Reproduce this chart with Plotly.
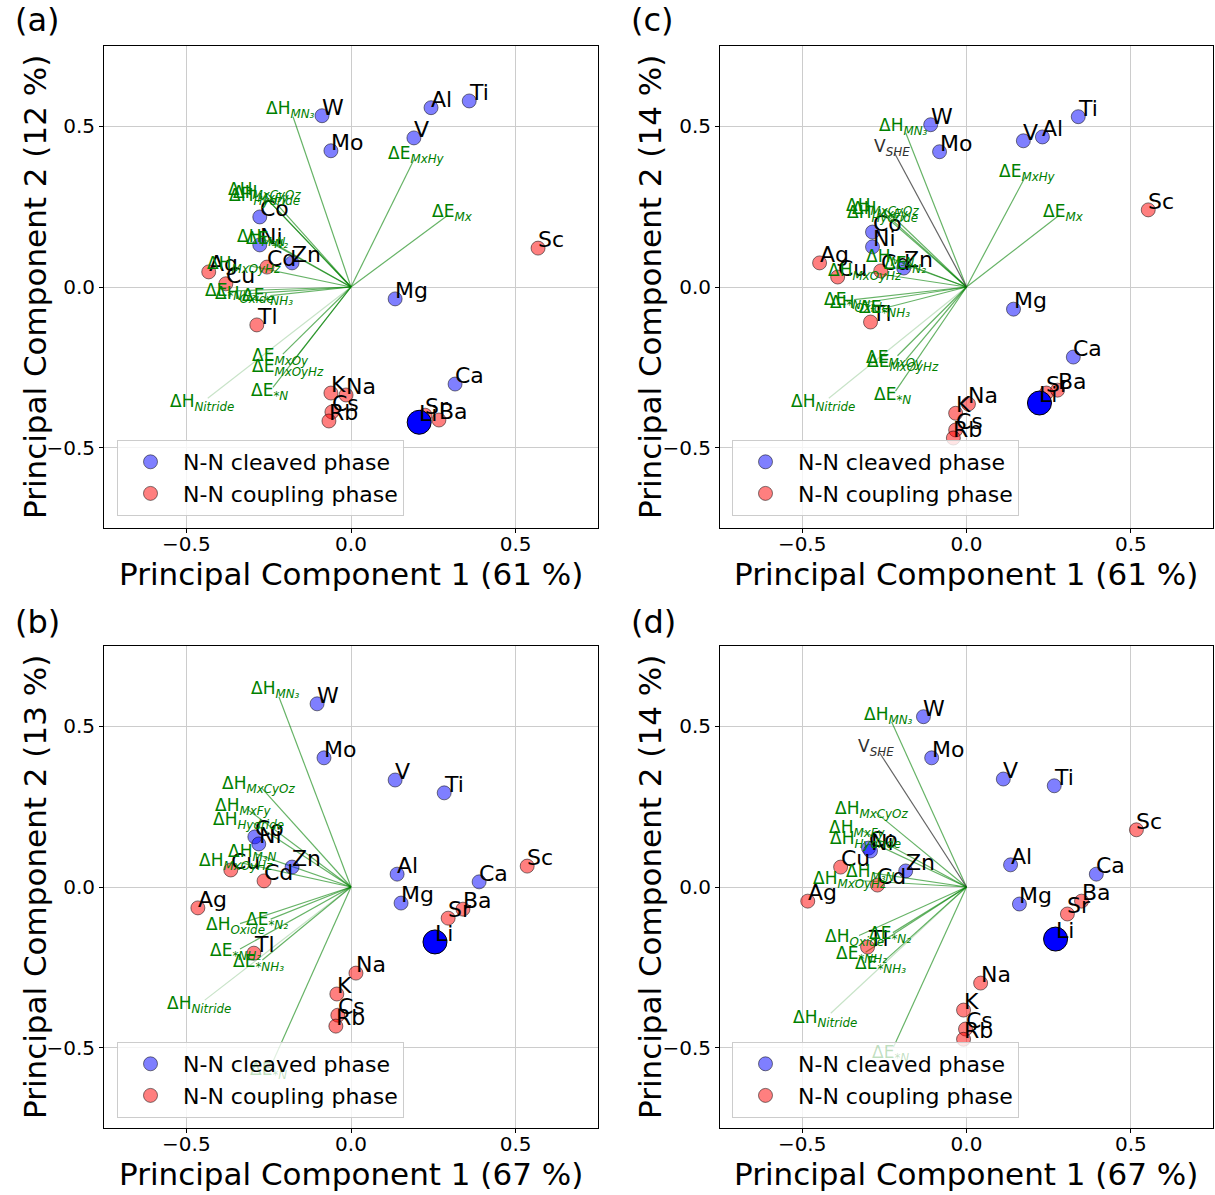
import plotly.graph_objects as go

# ---------------- data ----------------
elements = ["W", "Mo", "Al", "Ti", "V", "Mg", "Ca", "Co", "Ni", "Zn",
            "Sc", "Sr", "Ba", "K", "Na", "Cs", "Rb", "Ag", "Cu", "Cd", "Tl", "Li"]
phase = ["cleaved"] * 10 + ["coupling"] * 11 + ["reference"]

pc1_a = [-0.088, -0.061, 0.243, 0.359, 0.191, 0.134, 0.316, -0.277, -0.277, -0.179,
         0.568, 0.225, 0.267, -0.061, -0.015, -0.058, -0.067, -0.432, -0.380, -0.255, -0.286, 0.207]
pc2_a = [0.533, 0.424, 0.558, 0.579, 0.464, -0.037, -0.302, 0.218, 0.131, 0.075,
         0.121, -0.399, -0.414, -0.330, -0.336, -0.389, -0.417, 0.047, 0.010, 0.062, -0.118, -0.421]

pc1_c = [-0.109, -0.082, 0.231, 0.340, 0.173, 0.143, 0.325, -0.286, -0.286, -0.191,
         0.553, 0.243, 0.277, -0.033, 0.006, -0.033, -0.040, -0.447, -0.392, -0.261, -0.292, 0.222]
pc2_c = [0.505, 0.421, 0.467, 0.530, 0.455, -0.069, -0.218, 0.171, 0.125, 0.059,
         0.240, -0.330, -0.321, -0.393, -0.364, -0.445, -0.470, 0.075, 0.031, 0.050, -0.109, -0.361]

pc1_b = [-0.103, -0.082, 0.140, 0.283, 0.134, 0.152, 0.389, -0.292, -0.280, -0.179,
         0.535, 0.295, 0.340, -0.043, 0.015, -0.040, -0.046, -0.465, -0.365, -0.264, -0.295, 0.255]
pc2_b = [0.570, 0.402, 0.040, 0.293, 0.333, -0.050, 0.016, 0.156, 0.134, 0.062,
         0.065, -0.097, -0.069, -0.333, -0.268, -0.399, -0.433, -0.065, 0.053, 0.019, -0.206, -0.171]

pc1_d = [-0.131, -0.106, 0.134, 0.267, 0.112, 0.161, 0.395, -0.298, -0.292, -0.185,
         0.517, 0.307, 0.350, -0.009, 0.043, -0.003, -0.009, -0.483, -0.383, -0.271, -0.301, 0.271]
pc2_d = [0.530, 0.402, 0.069, 0.315, 0.336, -0.053, 0.040, 0.121, 0.112, 0.050,
         0.178, -0.084, -0.044, -0.383, -0.299, -0.442, -0.474, -0.044, 0.062, 0.006, -0.187, -0.162]

descriptors = ["ΔH_MN3", "V_SHE", "ΔH_MxCyOz", "ΔH_MxFy", "ΔH_Hydride", "ΔH_M3N", "ΔE_*N2",
               "ΔH_MxOyHz", "ΔH_Oxide", "ΔE_*NH2", "ΔE_*NH3", "ΔE_MxOy", "ΔE_MxOyHz",
               "ΔE_*N", "ΔH_Nitride", "ΔE_MxHy", "ΔE_Mx"]
descriptor_labels = [
    "ΔH<sub><i>MN₃</i></sub>", "V<sub><i>SHE</i></sub>", "ΔH<sub><i>MxCyOz</i></sub>",
    "ΔH<sub><i>MxFy</i></sub>", "ΔH<sub><i>Hydride</i></sub>", "ΔH<sub><i>M₃N</i></sub>",
    "ΔE<sub><i>*N₂</i></sub>", "ΔH<sub><i>MxOyHz</i></sub>", "ΔH<sub><i>Oxide</i></sub>",
    "ΔE<sub><i>*NH₂</i></sub>", "ΔE<sub><i>*NH₃</i></sub>", "ΔE<sub><i>MxOy</i></sub>",
    "ΔE<sub><i>MxOyHz</i></sub>", "ΔE<sub><i>*N</i></sub>", "ΔH<sub><i>Nitride</i></sub>",
    "ΔE<sub><i>MxHy</i></sub>", "ΔE<sub><i>Mx</i></sub>"]

load1_a = [-0.176, None, -0.253, -0.262, -0.253, -0.262, -0.245, -0.312, -0.312, -0.351, -0.245,
           -0.207, -0.185, -0.237, -0.435, 0.191, 0.295]
load2_a = [0.530, None, 0.290, 0.281, 0.272, 0.148, 0.142, 0.067, -0.021, -0.012, -0.027,
           -0.209, -0.242, -0.312, -0.346, 0.396, 0.224]

load1_c = [-0.185, -0.219, -0.247, -0.253, -0.247, -0.224, -0.179, -0.298, -0.312, -0.342, -0.239,
           -0.210, -0.185, -0.216, -0.419, 0.179, 0.283]
load2_c = [0.480, 0.417, 0.242, 0.233, 0.220, 0.087, 0.067, 0.046, -0.049, -0.039, -0.063,
           -0.214, -0.227, -0.324, -0.346, 0.343, 0.224]

load1_b = [-0.219, None, -0.271, -0.315, -0.298, -0.289, -0.244, -0.337, -0.337, -0.337, -0.269,
           None, None, -0.240, -0.444, None, None]
load2_b = [0.592, None, 0.308, 0.242, 0.200, 0.103, -0.100, 0.076, -0.114, -0.193, -0.227,
           None, None, -0.550, -0.352, None, None]

load1_d = [-0.228, -0.264, -0.277, -0.318, -0.295, -0.283, -0.224, -0.342, -0.327, -0.307, -0.253,
           None, None, -0.222, -0.413, None, None]
load2_d = [0.514, 0.417, 0.233, 0.176, 0.142, 0.043, -0.142, 0.021, -0.151, -0.203, -0.233,
           None, None, -0.498, -0.393, None, None]

panel_letters = ["(a)", "(c)", "(b)", "(d)"]
pc1_var = ["61 %", "61 %", "67 %", "67 %"]
pc2_var = ["12 %", "14 %", "13 %", "14 %"]
tick_vals = [-0.5, 0.0, 0.5]
tick_text = ["−0.5", "0.0", "0.5"]

# ---------------- layout geometry ----------------
W, H = 1215, 1195
xdom = [[104 / W, 598 / W], [720 / W, 1213 / W]]
ydom = [[1 - 528 / H, 1 - 46 / H], [1 - 1128 / H, 1 - 646 / H]]
panels = [
    dict(pc1=pc1_a, pc2=pc2_a, l1=load1_a, l2=load2_a, col=0, row=0, faint=False),
    dict(pc1=pc1_c, pc2=pc2_c, l1=load1_c, l2=load2_c, col=1, row=0, faint=False),
    dict(pc1=pc1_b, pc2=pc2_b, l1=load1_b, l2=load2_b, col=0, row=1, faint=True),
    dict(pc1=pc1_d, pc2=pc2_d, l1=load1_d, l2=load2_d, col=1, row=1, faint=True),
]

FONT = "DejaVu Sans"
fig = go.Figure()
annotations = []
layout_extra = {}

for i, p in enumerate(panels):
    sfx = "" if i == 0 else str(i + 1)
    xa, ya = "x" + sfx, "y" + sfx
    legname = "legend" + sfx

    # loading lines
    gx, gy = [], []
    for k, d in enumerate(descriptors):
        cx, cy = p["l1"][k], p["l2"][k]
        if cx is None or d in ("ΔH_Nitride", "V_SHE"):
            continue
        gx += [0, cx, None]
        gy += [0, cy, None]
    fig.add_trace(go.Scatter(x=gx, y=gy, mode="lines", xaxis=xa, yaxis=ya,
                             line=dict(color="rgba(0,128,0,0.6)", width=1.2),
                             showlegend=False, hoverinfo="skip"))
    kn = descriptors.index("ΔH_Nitride")
    fig.add_trace(go.Scatter(x=[0, p["l1"][kn]], y=[0, p["l2"][kn]], mode="lines",
                             xaxis=xa, yaxis=ya,
                             line=dict(color="rgba(0,128,0,0.22)", width=1.2),
                             showlegend=False, hoverinfo="skip"))
    kv = descriptors.index("V_SHE")
    if p["l1"][kv] is not None:
        fig.add_trace(go.Scatter(x=[0, p["l1"][kv]], y=[0, p["l2"][kv]], mode="lines",
                                 xaxis=xa, yaxis=ya,
                                 line=dict(color="rgba(60,60,60,0.8)", width=1.2),
                                 showlegend=False, hoverinfo="skip"))

    # points
    for ph, name, col in [("cleaved", "N-N cleaved phase", "rgba(0,0,255,0.5)"),
                          ("coupling", "N-N coupling phase", "rgba(255,0,0,0.5)")]:
        idx = [j for j, q in enumerate(phase) if q == ph]
        fig.add_trace(go.Scatter(
            x=[p["pc1"][j] for j in idx], y=[p["pc2"][j] for j in idx],
            mode="markers", name=name, xaxis=xa, yaxis=ya, legend=legname,
            marker=dict(size=14, color=col, line=dict(color="rgba(0,0,0,0.5)", width=1))))
    idx = [j for j, q in enumerate(phase) if q == "reference"]
    fig.add_trace(go.Scatter(
        x=[p["pc1"][j] for j in idx], y=[p["pc2"][j] for j in idx],
        mode="markers", xaxis=xa, yaxis=ya, showlegend=False,
        marker=dict(size=24, color="blue", line=dict(color="black", width=1))))

    # element labels
    for j, el in enumerate(elements):
        annotations.append(dict(x=p["pc1"][j], y=p["pc2"][j], xref=xa, yref=ya,
                                text=el, showarrow=False, xanchor="left", yanchor="bottom",
                                yshift=-6, xshift=-2,
                                font=dict(family=FONT, size=22, color="black")))
    # loading labels
    for k, d in enumerate(descriptors):
        cx, cy = p["l1"][k], p["l2"][k]
        if cx is None:
            continue
        colr = "#303030" if d == "V_SHE" else "green"
        if p["faint"] and d == "ΔE_*N":
            colr = "rgba(0,128,0,0.25)"
        annotations.append(dict(x=cx * 1.04, y=cy * 1.04, xref=xa, yref=ya,
                                text=descriptor_labels[k], showarrow=False,
                                xanchor="center", yanchor="middle",
                                font=dict(family=FONT, size=17, color=colr)))

    # axes
    axcommon = dict(range=[-0.75, 0.75], tickvals=tick_vals, ticktext=tick_text,
                    showgrid=True, gridcolor="#cccccc", gridwidth=1, zeroline=False,
                    showline=True, mirror=True, linecolor="black", linewidth=1,
                    ticks="outside", ticklen=4, tickcolor="black",
                    tickfont=dict(family=FONT, size=20, color="black"))
    layout_extra["xaxis" + sfx] = dict(domain=xdom[p["col"]], anchor=ya,
                                       ticklabelstandoff=-6, **axcommon)
    layout_extra["yaxis" + sfx] = dict(domain=ydom[p["row"]], anchor=xa, **axcommon)

    # legend
    lx = (117 if p["col"] == 0 else 732) / W
    ly = 1 - (440 if p["row"] == 0 else 1042) / H
    layout_extra[legname] = dict(x=lx, y=ly, xanchor="left", yanchor="top",
                                 bgcolor="rgba(255,255,255,0.8)", bordercolor="#cccccc",
                                 borderwidth=1, itemwidth=55,
                                 font=dict(family=FONT, size=22, color="black"))

    # titles
    xc = sum(xdom[p["col"]]) / 2
    yc = sum(ydom[p["row"]]) / 2
    xt_y = 1 - (574 if p["row"] == 0 else 1174) / H
    yt_x = (35 if p["col"] == 0 else 650) / W
    annotations.append(dict(x=xc, y=xt_y, xref="paper", yref="paper", showarrow=False,
                            text=f"Principal Component 1 ({pc1_var[i]})",
                            xanchor="center", yanchor="middle",
                            font=dict(family=FONT, size=31, color="black")))
    annotations.append(dict(x=yt_x, y=yc, xref="paper", yref="paper", showarrow=False,
                            text=f"Principal Component 2 ({pc2_var[i]})", textangle=-90,
                            xanchor="center", yanchor="middle",
                            font=dict(family=FONT, size=31, color="black")))
    annotations.append(dict(x=(13 if p["col"] == 0 else 629) / W,
                            y=1 - (20 if p["row"] == 0 else 622) / H,
                            xref="paper", yref="paper", showarrow=False,
                            text=panel_letters[i], xanchor="left", yanchor="middle",
                            font=dict(family=FONT, size=32, color="black")))

fig.update_layout(width=W, height=H, margin=dict(l=0, r=0, t=0, b=0),
                  paper_bgcolor="white", plot_bgcolor="white",
                  font=dict(family=FONT), annotations=annotations, **layout_extra)
fig.write_html("out.html", config={"displayModeBar": False},
               post_script="document.body.style.margin='0';")
